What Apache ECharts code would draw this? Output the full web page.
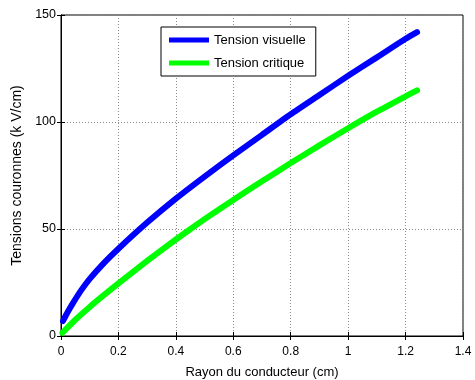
<!DOCTYPE html>
<html><head><meta charset="utf-8">
<script src="https://cdn.jsdelivr.net/npm/echarts@6/dist/echarts.min.js"></script>
<style>html,body{margin:0;padding:0;background:#fff}#c{width:475px;height:380px}</style>
</head><body><div id="c"></div>
<script>
var seriesNames = ['Tension visuelle', 'Tension critique'];
var xLabel = 'Rayon du conducteur (cm)';
var yLabel = 'Tensions couronnes (k V/cm)';
var visX = [0.007, 0.02, 0.04, 0.07, 0.1, 0.15, 0.2, 0.3, 0.4, 0.5, 0.6, 0.7, 0.8, 0.9, 1.0, 1.1, 1.2, 1.24];
var visY = [7, 10.4, 15.0, 21.3, 26.7, 34.2, 40.8, 53.0, 64.2, 74.5, 84.4, 94.0, 103.6, 112.6, 121.6, 130.2, 138.9, 142.0];
var criX = [0.005, 0.02, 0.05, 0.1, 0.15, 0.2, 0.3, 0.4, 0.5, 0.6, 0.7, 0.8, 0.9, 1.0, 1.1, 1.2, 1.24];
var criY = [1.5, 3.6, 7.6, 13.6, 19.2, 24.6, 35.1, 45.1, 54.6, 63.6, 72.3, 80.8, 89.1, 97.1, 104.8, 112.0, 114.8];

function pairs(xs, ys){ return xs.map(function(x,i){return [x, ys[i]];}); }
var font = 'Liberation Sans, Arial, sans-serif';
var chart = echarts.init(document.getElementById('c'));
var grid = {left:61, right:12, top:15, bottom:44, outerBoundsMode:'none', containLabel:false,
  show:true, borderColor:'#000', borderWidth:1, backgroundColor:'#fff'};
var gridLine = {show:true, lineStyle:{color:'#8a8a8a', type:[1,2], width:1}};
chart.setOption({
  animation:false,
  textStyle:{fontFamily:font},
  grid:grid,
  legend:{
    data:seriesNames, orient:'vertical', left:161, top:27,
    padding:[6,10,6,8], itemGap:9, itemWidth:40, itemHeight:5, icon:'rect',
    borderColor:'#000', borderWidth:1, backgroundColor:'#fff',
    textStyle:{fontSize:13, lineHeight:14, color:'#000', fontFamily:font}
  },
  xAxis:[{
    type:'value', min:0, max:1.4, interval:0.2, position:'bottom',
    name:xLabel, nameLocation:'middle', nameGap:30,
    nameTextStyle:{fontSize:13, color:'#000', fontFamily:font},
    axisLine:{show:true, lineStyle:{color:'#000'}},
    axisTick:{show:true, inside:true, length:4, lineStyle:{color:'#000'}},
    axisLabel:{fontSize:12, color:'#000', margin:10, fontFamily:font},
    splitLine:gridLine
  },{
    type:'value', min:0, max:1.4, interval:0.2, position:'top',
    axisLine:{show:true, lineStyle:{color:'#000'}},
    axisTick:{show:true, inside:true, length:4, lineStyle:{color:'#000'}},
    axisLabel:{show:false}, splitLine:{show:false}
  }],
  yAxis:[{
    type:'value', min:0, max:150, interval:50, position:'left',
    name:yLabel, nameLocation:'middle', nameGap:34,
    nameTextStyle:{fontSize:14, color:'#000', fontFamily:font},
    axisLine:{show:true, lineStyle:{color:'#000'}},
    axisTick:{show:true, inside:true, length:4, lineStyle:{color:'#000'}},
    axisLabel:{fontSize:12.5, color:'#000', margin:5, fontFamily:font},
    splitLine:gridLine
  },{
    type:'value', min:0, max:150, interval:50, position:'right',
    axisLine:{show:true, lineStyle:{color:'#000'}},
    axisTick:{show:true, inside:true, length:4, lineStyle:{color:'#000'}},
    axisLabel:{show:false}, splitLine:{show:false}
  }],
  series:[{
    name:seriesNames[0], type:'line', data:pairs(visX, visY), showSymbol:false, symbol:'none',
    smooth:0.2, lineStyle:{color:'#0000ff', width:6, cap:'round', join:'round'}, itemStyle:{color:'#0000ff'}
  },{
    name:seriesNames[1], type:'line', data:pairs(criX, criY), showSymbol:false, symbol:'none',
    smooth:0.2, lineStyle:{color:'#00ff00', width:6, cap:'round', join:'round'}, itemStyle:{color:'#00ff00'}
  }]
});
</script></body></html>
